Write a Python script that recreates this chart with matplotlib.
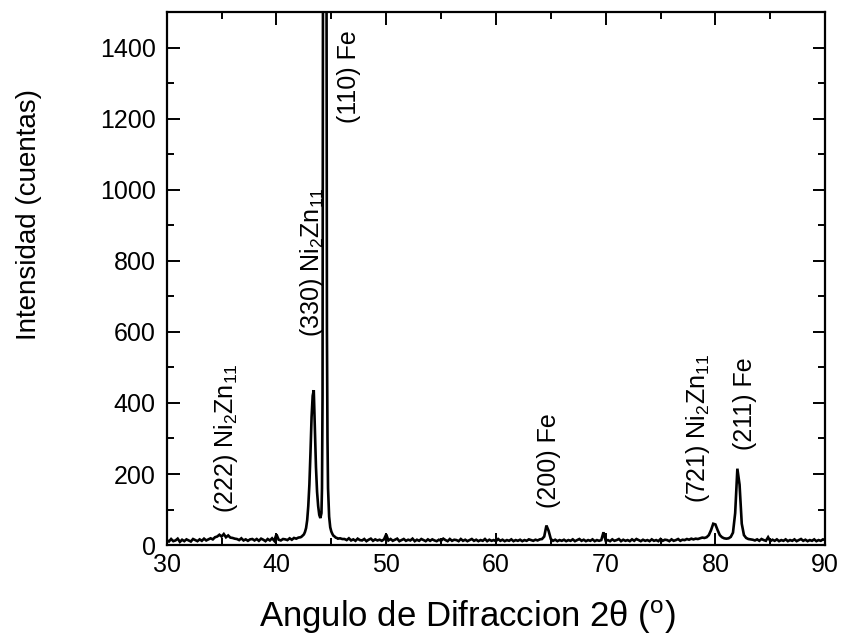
import numpy as np
import matplotlib
matplotlib.use("Agg")
import matplotlib.pyplot as plt
from matplotlib.ticker import MultipleLocator

plt.rcParams["font.family"] = ["Liberation Sans", "DejaVu Sans"]
plt.rcParams["mathtext.fontset"] = "custom"
plt.rcParams["mathtext.rm"] = "Liberation Sans"
plt.rcParams["mathtext.it"] = "Liberation Sans:italic"
plt.rcParams["mathtext.bf"] = "Liberation Sans:bold"

# ---- diffraction pattern (2theta in degrees, intensity in counts) ----
# low-angle baseline, 30.0 - 42.2 deg every 0.2 deg
low_start, low_step = 30.0, 0.2
low_counts = [
    14, 10, 17, 11, 13, 18, 9, 15, 11, 16, 13, 10, 17, 14, 11, 16, 12, 18, 13, 16,
    19, 16, 22, 24, 29, 24, 31, 22, 27, 21, 20, 18, 17, 14, 19, 13, 16, 12, 16, 17,
    13, 17, 12, 18, 15, 11, 17, 13, 19, 12, 30, 15, 13, 17, 16, 14, 19, 15, 20, 18,
    21, 22,
]

# (330) Ni2Zn11 + (110) Fe doublet, finer sampling
doublet_2theta = [42.3, 42.4, 42.5, 42.6, 42.7, 42.8, 42.9, 43.0, 43.1, 43.2, 43.3,
                  43.4, 43.5, 43.6, 43.7, 43.8, 43.9, 44.0, 44.1, 44.15, 44.2, 44.25,
                  44.55, 44.6, 44.65, 44.7, 44.8, 44.9, 45.0, 45.1, 45.2, 45.3, 45.4,
                  45.5, 45.6, 45.8, 46.0]
doublet_counts = [24, 27, 30, 37, 48, 70, 110, 170, 260, 360, 420,
                  436, 330, 220, 150, 110, 85, 76, 90, 160, 420, 1900,
                  1900, 600, 300, 160, 80, 50, 38, 31, 26, 24, 21,
                  20, 18, 19, 17]

# high-angle region, 46.2 - 90.0 deg every 0.2 deg
high_start, high_step = 46.2, 0.2
high_counts = [
    17, 14, 19, 13, 16, 12, 18, 14, 13, 17, 11, 15, 18, 12, 16, 13, 15, 12, 16, 30,
    13, 17, 12, 15, 18, 11, 14, 17, 12, 15, 13, 18, 11, 15, 12, 17, 14, 11, 16, 12,
    16, 13, 11, 15, 12, 18, 14, 11, 17, 12, 15, 14, 11, 17, 12, 15, 11, 14, 17, 12,
    15, 11, 14, 12, 17, 11, 15, 12, 14, 11, 17, 12, 15, 11, 14, 12, 16, 11, 14, 12,
    15, 11, 14, 12, 16, 14, 12, 15, 13, 16, 17, 24, 55, 40, 17, 12, 15, 11, 14, 12,
    15, 11, 14, 12, 16, 11, 14, 17, 12, 15, 11, 14, 12, 16, 11, 14, 12, 14, 36, 12,
    14, 11, 16, 12, 14, 17, 11, 15, 12, 14, 11, 16, 12, 17, 14, 11, 15, 12, 14, 11,
    16, 12, 14, 11, 17, 12, 15, 14, 11, 16, 12, 14, 17, 12, 15, 14, 17, 15, 18, 16,
    18, 17, 19, 21, 20, 22, 28, 42, 60, 58, 42, 28, 22, 19, 18, 19, 23, 35, 90, 215,
    170, 60, 28, 20, 17, 16, 15, 13, 16, 12, 17, 14, 12, 22, 11, 15, 12, 16, 11, 14,
    12, 16, 11, 14, 12, 16, 11, 14, 17, 12, 15, 11, 14, 12, 16, 11, 14, 12, 16, 14,
]

# peak assignments: text, label centre (2theta), label base (counts)
peak_labels = [r"(222) Ni$_2$Zn$_{11}$", r"(330) Ni$_2$Zn$_{11}$", "(110) Fe",
               "(200) Fe", r"(721) Ni$_2$Zn$_{11}$", "(211) Fe"]
label_2theta = [35.4, 43.27, 46.6, 64.83, 78.45, 82.7]
label_counts = [90, 585, 1188, 104, 118, 267]

low_2theta = low_start + low_step * np.arange(len(low_counts))
high_2theta = high_start + high_step * np.arange(len(high_counts))
two_theta = np.concatenate([low_2theta, doublet_2theta, high_2theta])
counts = np.concatenate([low_counts, doublet_counts, high_counts])

fig = plt.figure(figsize=(8.42, 6.42), dpi=100)
ax = fig.add_axes([0.198, 0.151, 0.782, 0.830])

ax.plot(two_theta, counts, color="black", lw=1.9, solid_joinstyle="miter")

for txt, xl, yl in zip(peak_labels, label_2theta, label_counts):
    ax.text(xl, yl, txt, rotation=90, ha="center", va="bottom", fontsize=18)

ax.set_xlim(30, 90)
ax.set_ylim(0, 1500)
ax.xaxis.set_major_locator(MultipleLocator(10))
ax.xaxis.set_minor_locator(MultipleLocator(5))
ax.yaxis.set_major_locator(MultipleLocator(200))
ax.yaxis.set_minor_locator(MultipleLocator(100))
ax.tick_params(which="both", direction="in", top=True, right=True, width=1.4,
               labelsize=18)
ax.tick_params(which="major", length=9)
ax.tick_params(which="minor", length=5)
ax.tick_params(axis="y", which="both", pad=8)
ax.tick_params(axis="x", which="both", pad=6)
for sp in ax.spines.values():
    sp.set_linewidth(1.6)

ax.set_xlabel("Angulo de Difraccion 2θ ($^{\\mathrm{o}}$)", fontsize=25)
ax.set_ylabel("Intensidad (cuentas)", fontsize=20)
ax.xaxis.set_label_coords(0.456, -0.1)
ax.yaxis.set_label_coords(-0.19, 0.62)

fig.savefig("out.png", dpi=100)
